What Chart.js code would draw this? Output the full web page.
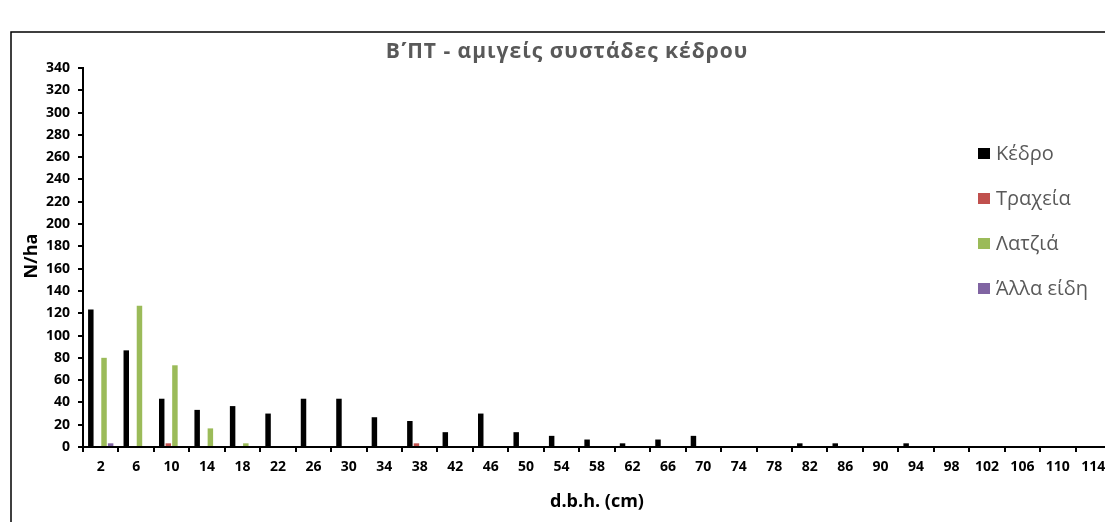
<!DOCTYPE html>
<html>
<head>
<meta charset="utf-8">
<script src="https://cdn.jsdelivr.net/npm/chart.js@4.4.1/dist/chart.umd.min.js"></script>
<style>
  html, body { margin: 0; padding: 0; overflow: hidden; background: #ffffff; }
  #wrap { position: absolute; left: 0; top: 0; width: 1120px; height: 522px; }
</style>
</head>
<body>
<div id="wrap"><canvas id="c"></canvas></div>
<script>
// Diameter classes (cm) on the x axis
const dbhClasses = ['2', '6', '10', '14', '18', '22', '26', '30', '34', '38', '42', '46', '50', '54', '58',
                    '62', '66', '70', '74', '78', '82', '86', '90', '94', '98', '102', '106', '110', '114'];

// Trees per hectare in each diameter class
const kedros  = [123.3, 86.7, 43.3, 33.3, 36.7, 30, 43.3, 43.3, 26.7, 23.3, 13.3, 30, 13.3, 10, 6.7,
                 3.3, 6.7, 10, 0, 0, 3.3, 3.3, 0, 3.3, 0, 0, 0, 0, 0];
const traxeia = [0, 0, 3.3, 0, 0, 0, 0, 0, 0, 3.3, 0, 0, 0, 0, 0,
                 0, 0, 0, 0, 0, 0, 0, 0, 0, 0, 0, 0, 0, 0];
const latzia  = [80, 126.7, 73.3, 16.7, 3.3, 0, 0, 0, 0, 0, 0, 0, 0, 0, 0,
                 0, 0, 0, 0, 0, 0, 0, 0, 0, 0, 0, 0, 0, 0];
const alla    = [3.3, 0, 0, 0, 0, 0, 0, 0, 0, 0, 0, 0, 0, 0, 0,
                 0, 0, 0, 0, 0, 0, 0, 0, 0, 0, 0, 0, 0, 0];

const seriesNames  = ['Κέδρο', 'Τραχεία', 'Λατζιά', 'Άλλα είδη'];
const seriesColors = ['#000000', '#C0504D', '#9BBB59', '#8064A2'];
const seriesData   = [kedros, traxeia, latzia, alla];

// Y axis range and text
const yMin = 0, yMax = 340, yStep = 20;
const chartTitle = 'Β\u0374ΠΤ - αμιγείς συστάδες κέδρου';
const yTitle = 'N/ha';
const xTitle = 'd.b.h. (cm)';

const FONT = '"Open Sans", "Noto Sans", "DejaVu Sans", sans-serif';

// Frame, titles and the legend drawn straight onto the canvas
const decor = {
  id: 'decor',
  beforeDraw(chart) {
    const ctx = chart.ctx;
    ctx.save();
    ctx.fillStyle = '#ffffff';
    ctx.fillRect(0, 0, chart.width, chart.height);
    ctx.strokeStyle = '#000000';
    ctx.lineWidth = 1.5;
    ctx.strokeRect(11, 32, chart.width + 40, chart.height + 40);
    ctx.restore();
  },
  afterDraw(chart) {
    const ctx = chart.ctx;
    ctx.save();

    // chart title
    ctx.fillStyle = '#595959';
    ctx.font = 'bold 21px ' + FONT;
    ctx.letterSpacing = '1px';
    ctx.textAlign = 'center';
    ctx.textBaseline = 'alphabetic';
    ctx.fillText(chartTitle, 567, 58);
    ctx.letterSpacing = '0px';

    // axis titles
    ctx.fillStyle = '#000000';
    ctx.font = 'bold 18px ' + FONT;
    ctx.fillText(xTitle, 597, 507);
    ctx.save();
    ctx.translate(37, 256);
    ctx.rotate(-Math.PI / 2);
    ctx.fillText(yTitle, 0, 0);
    ctx.restore();

    // legend
    ctx.font = '20px ' + FONT;
    ctx.textAlign = 'left';
    chart.data.datasets.forEach((ds, i) => {
      const base = 160 + i * 45;
      ctx.fillStyle = ds.backgroundColor;
      ctx.fillRect(978, base - 12, 12, 11);
      ctx.fillStyle = '#595959';
      ctx.fillText(ds.label, 996, base);
    });

    ctx.restore();
  }
};

const tickFont = { family: FONT, weight: 'bold', size: 14 };

new Chart(document.getElementById('c'), {
  type: 'bar',
  data: {
    labels: dbhClasses,
    datasets: seriesNames.map((name, i) => ({
      label: name,
      data: seriesData[i],
      backgroundColor: seriesColors[i],
      borderWidth: 0,
      categoryPercentage: 0.745,
      barPercentage: 0.83
    }))
  },
  options: {
    responsive: true,
    maintainAspectRatio: false,
    animation: false,
    devicePixelRatio: 1,
    layout: { padding: { left: 0, right: 9, top: 68, bottom: 0 } },
    plugins: {
      legend: { display: false },
      title: { display: false },
      tooltip: { enabled: false }
    },
    scales: {
      x: {
        grid: { offset: true, drawOnChartArea: false, color: '#000000', lineWidth: 2, tickLength: 5 },
        border: { color: '#000000', width: 2 },
        ticks: { color: '#000000', font: tickFont, padding: 7, maxRotation: 0, autoSkip: false },
        afterFit(scale) { scale.height = 75; }
      },
      y: {
        min: yMin,
        max: yMax,
        grid: { drawOnChartArea: false, color: '#000000', lineWidth: 2, tickLength: 5 },
        border: { color: '#000000', width: 2 },
        ticks: { stepSize: yStep, color: '#000000', font: tickFont, padding: 8 },
        afterFit(scale) { scale.width = 83; }
      }
    }
  },
  plugins: [decor]
});
</script>
</body>
</html>
